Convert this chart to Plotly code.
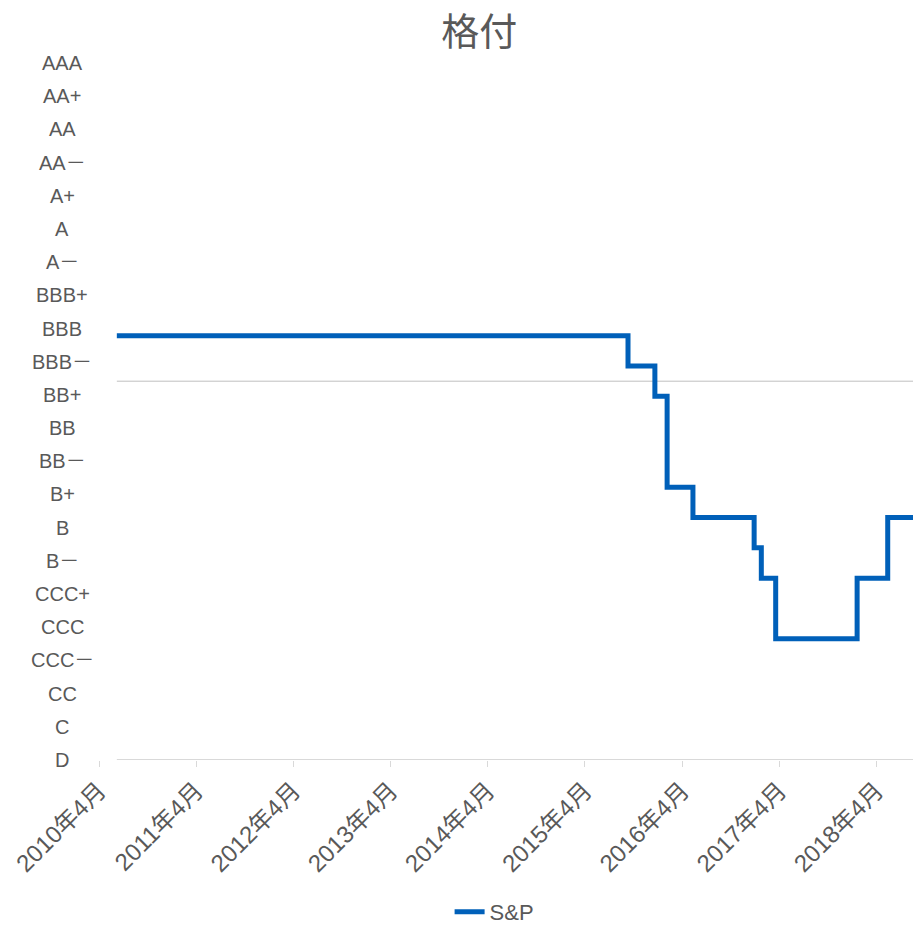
import plotly.graph_objects as go

# rating scale, top to bottom as printed on the chart
rating_labels = ['AAA', 'AA+', 'AA', 'AA－', 'A+', 'A', 'A－', 'BBB+', 'BBB', 'BBB－',
                 'BB+', 'BB', 'BB－', 'B+', 'B', 'B－', 'CCC+', 'CCC', 'CCC－', 'CC', 'C', 'D']

# S&P rating history (level on the 0..23 scale of the line), step changes
sp_dates = ['2010-06-07', '2015-09-10', '2015-12-20', '2016-02-04', '2016-05-11',
            '2016-12-27', '2017-01-23', '2017-03-18', '2018-01-18', '2018-05-13', '2018-08-16']
sp_levels = [14, 13, 12, 9, 8, 7, 6, 4, 6, 8, 8]

tick_dates = ['2010-04-01', '2011-04-01', '2012-04-01', '2013-04-01', '2014-04-01',
              '2015-04-01', '2016-04-01', '2017-04-01', '2018-04-01']
tick_text = ['2010年4月', '2011年4月', '2012年4月', '2013年4月', '2014年4月',
             '2015年4月', '2016年4月', '2017年4月', '2018年4月']

invest_grade_line = 12.5
y_top = 23

font_family = 'Liberation Sans, Arial, Noto Sans CJK JP, sans-serif'
grey_text = '#595959'

fig = go.Figure()

fig.add_trace(go.Scatter(
    x=sp_dates, y=sp_levels,
    mode='lines', line_shape='hv',
    line=dict(color='#0060B9', width=5),
    name='S&P'
))

# baseline and investment grade threshold (start at first data point)
fig.add_shape(type='line', xref='x', yref='y',
              x0=sp_dates[0], x1=sp_dates[-1], y0=0, y1=0,
              line=dict(color='#d9d9d9', width=2), layer='below')
fig.add_shape(type='line', xref='x', yref='y',
              x0=sp_dates[0], x1=sp_dates[-1], y0=invest_grade_line, y1=invest_grade_line,
              line=dict(color='#bfbfbf', width=1), layer='below')

# centred rating labels on the left
n = len(rating_labels)
for i, lab in enumerate(rating_labels):
    fig.add_annotation(
        xref='paper', yref='y', x=0, y=y_top - i * y_top / (n - 1),
        xshift=-37, xanchor='center', yanchor='middle',
        text=lab, showarrow=False,
        font=dict(family=font_family, size=20, color=grey_text)
    )

fig.update_layout(
    width=913, height=932,
    margin=dict(l=99, r=0, t=63, b=172, autoexpand=False),
    paper_bgcolor='white', plot_bgcolor='white',
    title=dict(text='格付', x=0.525, xanchor='center', y=0.966, yanchor='middle',
               font=dict(family=font_family, size=38, color=grey_text)),
    font=dict(family=font_family, color=grey_text),
    showlegend=True,
    legend=dict(orientation='h', x=0.486, xanchor='center', y=-0.218, yanchor='middle',
                font=dict(size=22, color=grey_text)),
    xaxis=dict(
        type='date', range=['2010-04-01', sp_dates[-1]], automargin=False,
        tickvals=tick_dates, ticktext=tick_text, tickangle=-45,
        ticks='outside', ticklen=6, tickcolor='#d9d9d9', tickwidth=1,
        showgrid=False, zeroline=False, showline=False,
        tickfont=dict(family=font_family, size=24, color=grey_text)
    ),
    yaxis=dict(
        range=[0, y_top], showticklabels=False, showgrid=False,
        zeroline=False, showline=False, ticks='', automargin=False
    )
)

fig.write_html('out.html', config={'displayModeBar': False},
               post_script="document.body.style.margin='0';")
